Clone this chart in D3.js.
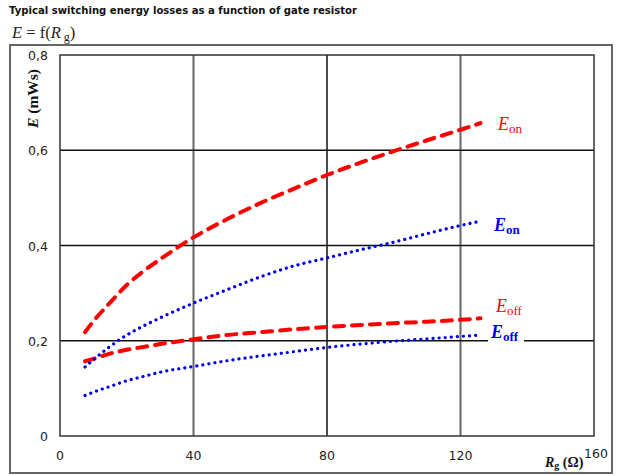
<!DOCTYPE html>
<html>
<head>
<meta charset="utf-8">
<script src="https://cdn.jsdelivr.net/npm/d3@7"></script>
<style>
  body { margin: 0; background: #fff; }
  svg { display: block; }
  .tick-label { font-family: "DejaVu Sans", Verdana, sans-serif; font-size: 12.5px; fill: #222; }
  .serif { font-family: "Liberation Serif", "DejaVu Serif", serif; }
</style>
</head>
<body>
<div id="chart"></div>
<script>
// gate resistor values (ohm) and losses (mWs)
var rgValues = [7.5, 10, 15, 20, 25, 30, 40, 50, 60, 70, 80, 90, 100, 110, 120, 126];
var eonHot   = [0.218, 0.241, 0.280, 0.317, 0.346, 0.371, 0.417, 0.455, 0.489, 0.519, 0.548, 0.574, 0.598, 0.621, 0.643, 0.657];
var eonCold  = [0.145, 0.160, 0.188, 0.212, 0.231, 0.248, 0.279, 0.307, 0.334, 0.357, 0.374, 0.391, 0.407, 0.425, 0.442, 0.451];
var eoffHot  = [0.157, 0.162, 0.173, 0.181, 0.187, 0.193, 0.203, 0.212, 0.218, 0.224, 0.229, 0.233, 0.237, 0.240, 0.244, 0.247];
var eoffCold = [0.085, 0.092, 0.104, 0.116, 0.125, 0.134, 0.146, 0.158, 0.168, 0.177, 0.186, 0.193, 0.199, 0.204, 0.209, 0.212];

var xTicks = [0, 40, 80, 120, 160];
var yTicks = [0, 0.2, 0.4, 0.6, 0.8];

var width = 625, height = 476;

var svg = d3.select('#chart').append('svg')
    .attr('width', width)
    .attr('height', height);

var x = d3.scaleLinear().domain([0, 160]).range([60, 594]);
var y = d3.scaleLinear().domain([0, 0.8]).range([436, 55]);

var commaFmt = d3.formatLocale({ decimal: ',', thousands: '.', grouping: [3], currency: ['', ''] }).format('.1f');

// Title
svg.append('text')
    .attr('x', 9)
    .attr('y', 14)
    .attr('font-family', '"DejaVu Sans", Verdana, sans-serif')
    .attr('font-weight', 'bold')
    .attr('font-size', 10)
    .attr('fill', '#111')
    .attr('textLength', 348)
    .attr('lengthAdjust', 'spacingAndGlyphs')
    .text('Typical switching energy losses as a function of gate resistor');

// E = f(Rg)
var fn = svg.append('text')
    .attr('class', 'serif')
    .attr('x', 12)
    .attr('y', 38)
    .attr('font-size', 16.5)
    .attr('fill', '#222');
fn.append('tspan').attr('font-style', 'italic').text('E');
fn.append('tspan').text(' = f(');
fn.append('tspan').attr('font-style', 'italic').text('R');
fn.append('tspan').attr('font-size', 12).attr('dy', 3).attr('dx', 3).text('g');
fn.append('tspan').attr('dy', -3).text(')');

// outer frame
svg.append('rect')
    .attr('x', 10).attr('y', 45)
    .attr('width', 602).attr('height', 428)
    .attr('fill', 'none')
    .attr('stroke', '#666')
    .attr('stroke-width', 2);

// grid
var grid = svg.append('g');
grid.selectAll('.vgrid')
    .data([40, 80, 120])
    .enter().append('line')
    .attr('x1', function(d) { return x(d); })
    .attr('x2', function(d) { return x(d); })
    .attr('y1', y(0)).attr('y2', y(0.8))
    .attr('stroke', function(d) { return d === 80 ? '#111' : '#666'; })
    .attr('stroke-width', function(d) { return d === 80 ? 1.5 : 2; });
grid.selectAll('.hgrid')
    .data([0.2, 0.4, 0.6])
    .enter().append('line')
    .attr('x1', x(0)).attr('x2', x(160))
    .attr('y1', function(d) { return y(d); })
    .attr('y2', function(d) { return y(d); })
    .attr('stroke', '#111')
    .attr('stroke-width', 1.5);

// plot border
svg.append('rect')
    .attr('x', x(0)).attr('y', y(0.8))
    .attr('width', x(160) - x(0)).attr('height', y(0) - y(0.8))
    .attr('fill', 'none')
    .attr('stroke', '#333')
    .attr('stroke-width', 1.5);

// tick labels
svg.selectAll('.ylab')
    .data(yTicks)
    .enter().append('text')
    .attr('class', 'tick-label')
    .attr('x', 48)
    .attr('y', function(d) { return y(d) + 5; })
    .attr('text-anchor', 'end')
    .text(function(d) { return d === 0 ? '0' : commaFmt(d); });

svg.selectAll('.xlab')
    .data(xTicks)
    .enter().append('text')
    .attr('class', 'tick-label')
    .attr('x', function(d) { return x(d) + (d === 160 ? 2 : 0); })
    .attr('y', function(d) { return d === 160 ? 458 : 460; })
    .attr('text-anchor', 'middle')
    .text(function(d) { return d; });

// axis titles
var xt = svg.append('text')
    .attr('class', 'serif')
    .attr('x', 545)
    .attr('y', 467)
    .attr('font-size', 14)
    .attr('font-weight', 'bold')
    .attr('fill', '#111');
xt.append('tspan').attr('font-style', 'italic').text('R');
xt.append('tspan').attr('font-size', 10).attr('dy', 2).text('g');
xt.append('tspan').attr('dy', -2).text(' (Ω)');

var yt = svg.append('text')
    .attr('class', 'serif')
    .attr('transform', 'translate(38,128) rotate(-90)')
    .attr('font-size', 15.5)
    .attr('font-weight', 'bold')
    .attr('fill', '#111');
yt.append('tspan').attr('font-style', 'italic').text('E');
yt.append('tspan').text('   (mWs)');

// curves
var line = d3.line()
    .x(function(d) { return x(d[0]); })
    .y(function(d) { return y(d[1]); })
    .curve(d3.curveMonotoneX);

function pairs(vals) {
    return rgValues.map(function(r, i) { return [r, vals[i]]; });
}

var series = [
    { vals: eonHot,   color: '#ff0000', dash: '10,8',   w: 4 },
    { vals: eoffHot,  color: '#ff0000', dash: '10,8',   w: 4 },
    { vals: eonCold,  color: '#0000ee', dash: '0.1,6',  w: 3.2 },
    { vals: eoffCold, color: '#0000ee', dash: '0.1,6',  w: 3.2 }
];

svg.append('g').selectAll('path')
    .data(series)
    .enter().append('path')
    .attr('d', function(d) { return line(pairs(d.vals)); })
    .attr('fill', 'none')
    .attr('stroke', function(d) { return d.color; })
    .attr('stroke-width', function(d) { return d.w; })
    .attr('stroke-dasharray', function(d) { return d.dash; })
    .attr('stroke-linecap', 'round');

// curve labels
var labels = [
    { x: 498, y: 130, sub: 'on',  color: '#ff0000', bold: false },
    { x: 494, y: 231, sub: 'on',  color: '#0000ee', bold: true },
    { x: 496, y: 312, sub: 'off', color: '#ff0000', bold: false },
    { x: 491, y: 338, sub: 'off', color: '#0000ee', bold: true, box: true }
];

labels.forEach(function(l) {
    if (l.box) {
        svg.append('rect')
            .attr('x', l.x - 3).attr('y', l.y - 14)
            .attr('width', 36).attr('height', 18)
            .attr('fill', '#fff');
    }
    var t = svg.append('text')
        .attr('class', 'serif')
        .attr('x', l.x)
        .attr('y', l.y)
        .attr('font-size', 18)
        .attr('font-weight', l.bold ? 'bold' : 'normal')
        .attr('fill', l.color);
    t.append('tspan').attr('font-style', 'italic').text('E');
    t.append('tspan').attr('font-size', 13).attr('dy', 3).text(l.sub);
});
</script>
</body>
</html>
